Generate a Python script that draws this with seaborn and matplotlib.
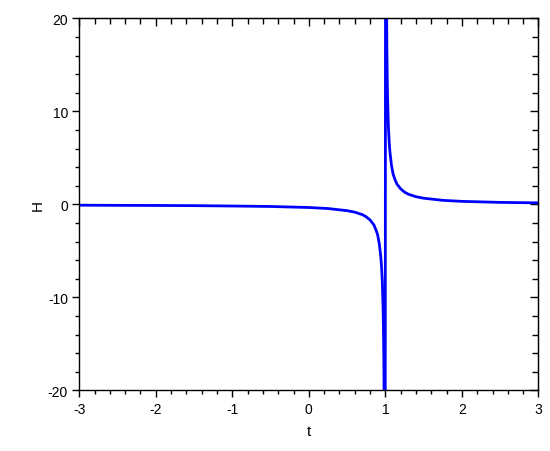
import numpy as np
import pandas as pd
import seaborn as sns
import matplotlib.pyplot as plt
from matplotlib.ticker import MultipleLocator

# values
t = [-3.0, -2.5, -2.0, -1.5, -1.0, -0.5, 0.0, 0.25, 0.5, 0.6, 0.7, 0.75,
     0.8, 0.85, 0.88, 0.9, 0.92, 0.94, 0.95, 0.96, 0.97, 0.975, 0.98, 0.985,
     0.99, 0.995, 1.005, 1.01, 1.015, 1.02, 1.025, 1.03, 1.04, 1.05, 1.06,
     1.08, 1.1, 1.12, 1.15, 1.2, 1.25, 1.3, 1.4, 1.5, 1.75, 2.0, 2.5, 3.0]
H = [-0.08, -0.1, -0.11, -0.13, -0.17, -0.22, -0.33, -0.44, -0.67, -0.83,
     -1.1, -1.33, -1.67, -2.2, -2.8, -3.3, -4.2, -5.6, -6.7, -8.3, -11.1,
     -13.3, -16.7, -22.2, -33.3, -66.7, 66.7, 33.3, 22.2, 16.7, 13.3, 11.1,
     8.3, 6.7, 5.6, 4.2, 3.3, 2.8, 2.2, 1.67, 1.33, 1.1, 0.83, 0.67, 0.44,
     0.33, 0.22, 0.17]

df = pd.DataFrame({'t': t, 'H': H})

sns.set_style('ticks')
plt.rcParams['font.family'] = ['Liberation Sans', 'DejaVu Sans']
plt.rcParams['axes.unicode_minus'] = False
plt.rcParams['text.color'] = 'black'
plt.rcParams['axes.labelcolor'] = 'black'
plt.rcParams['xtick.color'] = 'black'
plt.rcParams['ytick.color'] = 'black'

fig = plt.figure(figsize=(5.5, 4.52), dpi=100)
ax = fig.add_axes([0.144, 0.134, 0.835, 0.823])

sns.lineplot(data=df, x='t', y='H', sort=False, estimator=None,
             color='#0000ff', linewidth=2.0, ax=ax)

ax.set_xlim(-3, 3)
ax.set_ylim(-20, 20)
ax.xaxis.set_major_locator(MultipleLocator(1))
ax.xaxis.set_minor_locator(MultipleLocator(0.2))
ax.yaxis.set_major_locator(MultipleLocator(10))
ax.yaxis.set_minor_locator(MultipleLocator(2))
ax.tick_params(which='major', direction='out', length=5, width=1, labelsize=10, pad=3)
ax.tick_params(which='minor', direction='out', length=3, width=1)
ax.set_xlabel('t', fontsize=11, labelpad=6)
ax.set_ylabel('H', fontsize=11, labelpad=2)

for s in ax.spines.values():
    s.set_visible(True)
    s.set_linewidth(1)
    s.set_color('black')

# mirrored axes with inward ticks, no labels
top = ax.secondary_xaxis('top')
top.xaxis.set_major_locator(MultipleLocator(1))
top.xaxis.set_minor_locator(MultipleLocator(0.2))
top.tick_params(which='major', direction='in', length=6, width=1, labeltop=False)
top.tick_params(which='minor', direction='in', length=4, width=1)
right = ax.secondary_yaxis('right')
right.yaxis.set_major_locator(MultipleLocator(10))
right.yaxis.set_minor_locator(MultipleLocator(2))
right.tick_params(which='major', direction='in', length=6, width=1, labelright=False)
right.tick_params(which='minor', direction='in', length=4, width=1)

fig.savefig('out.png', dpi=100)
